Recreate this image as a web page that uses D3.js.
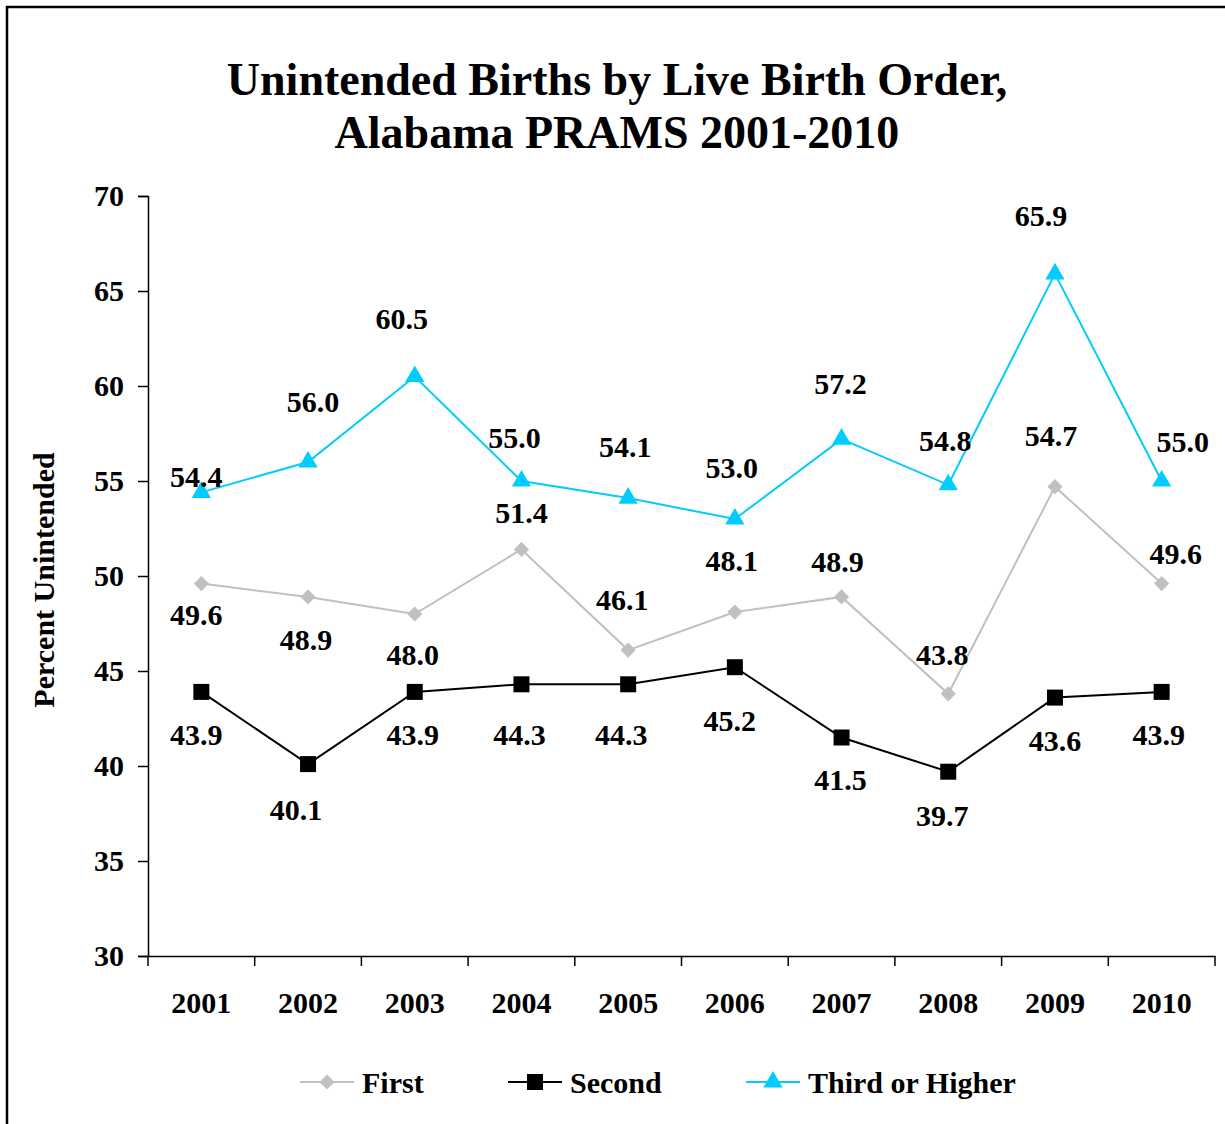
<!DOCTYPE html>
<html>
<head>
<meta charset="utf-8">
<script src="https://cdn.jsdelivr.net/npm/d3@7"></script>
<style>
	body { margin: 0; background: #fff; }
	text { font-family: "Liberation Serif", "Times New Roman", serif; font-weight: bold; }
</style>
</head>
<body>
<svg id="chart" width="1225" height="1124"></svg>
<script>
var years = ['2001', '2002', '2003', '2004', '2005', '2006', '2007', '2008', '2009', '2010'];
var first = [49.6, 48.9, 48.0, 51.4, 46.1, 48.1, 48.9, 43.8, 54.7, 49.6];
var second = [43.9, 40.1, 43.9, 44.3, 44.3, 45.2, 41.5, 39.7, 43.6, 43.9];
var third = [54.4, 56.0, 60.5, 55.0, 54.1, 53.0, 57.2, 54.8, 65.9, 55.0];
var yTicks = [30, 35, 40, 45, 50, 55, 60, 65, 70];

// hand-placed label nudges (px from the marker), like the original
var firstNudge = [[-5, 31], [-2, 43], [-2, 40], [0, -37], [-6, -51], [-3, -52], [-4, -35], [-6, -39], [-4, -51], [14, -30]];
var secondNudge = [[-5, 43], [-12, 45], [-2, 43], [-2, 50], [-7, 50], [-5, 53], [-1, 42], [-6, 44], [0, 43], [-3, 43]];
var thirdNudge = [[-5, -16], [5, -61], [-13, -58], [-7, -44], [-3, -52], [-3, -52], [-1, -56], [-3, -44], [-14, -58], [21, -40]];

var svg = d3.select('#chart');

// outer frame
svg.append('rect')
	.attr('x', 7).attr('y', 7)
	.attr('width', 1240).attr('height', 1140)
	.attr('fill', 'none')
	.attr('stroke', '#000')
	.attr('stroke-width', 2.5);

var plotLeft = 148, plotRight = 1215, plotTop = 196, plotBottom = 956;

var x = d3.scaleBand().domain(years).range([plotLeft, plotRight]);
var y = d3.scaleLinear().domain([30, 70]).range([plotBottom, plotTop]);

svg.append('text')
	.attr('x', 617).attr('y', 95)
	.attr('text-anchor', 'middle')
	.attr('font-size', 46)
	.text('Unintended Births by Live Birth Order,');
svg.append('text')
	.attr('x', 617).attr('y', 148)
	.attr('text-anchor', 'middle')
	.attr('font-size', 46)
	.text('Alabama PRAMS 2001-2010');

// y axis
var yAxis = svg.append('g')
	.attr('transform', 'translate(' + plotLeft + ',0)')
	.call(d3.axisLeft(y).tickValues(yTicks).tickSize(10).tickPadding(14));
yAxis.selectAll('text').attr('font-size', 30).attr('font-family', null).attr('fill', '#000');

// x axis, ticks at band edges
var xAxis = svg.append('g')
	.attr('transform', 'translate(0,' + plotBottom + ')')
	.call(d3.axisBottom(x).tickSize(0).tickPadding(36));
xAxis.selectAll('text').attr('font-size', 30).attr('font-family', null).attr('fill', '#000');
xAxis.selectAll('.edge')
	.data(years.concat(['end']))
	.enter().append('line')
	.attr('class', 'edge')
	.attr('x1', function(d, i) { return plotLeft + i * x.step(); })
	.attr('x2', function(d, i) { return plotLeft + i * x.step(); })
	.attr('y1', 0).attr('y2', 10)
	.attr('stroke', '#000')
	.attr('stroke-width', 1.5);
svg.selectAll('.domain').attr('stroke', '#000').attr('stroke-width', 1.5);
svg.selectAll('.tick line').attr('stroke-width', 1.5);

svg.append('text')
	.attr('transform', 'translate(54,580) rotate(-90)')
	.attr('text-anchor', 'middle')
	.attr('font-size', 30)
	.text('Percent Unintended');

var cx = function(i) { return x(years[i]) + x.bandwidth() / 2; };

// rot: diamond is a square turned 45 degrees
var series = [
	{ name: 'First', values: first, nudge: firstNudge, color: '#c0c0c0', shape: d3.symbolSquare, size: 115, rot: 45, lx: 300 },
	{ name: 'Second', values: second, nudge: secondNudge, color: '#000000', shape: d3.symbolSquare, size: 256, rot: 0, lx: 508 },
	{ name: 'Third or Higher', values: third, nudge: thirdNudge, color: '#00ccff', shape: d3.symbolTriangle, size: 160, rot: 0, lx: 746 }
];

var line = d3.line()
	.x(function(d, i) { return cx(i); })
	.y(function(d) { return y(d); });

series.forEach(function(s) {
	svg.append('path')
		.datum(s.values)
		.attr('fill', 'none')
		.attr('stroke', s.color)
		.attr('stroke-width', 2)
		.attr('d', line);

	svg.selectAll(null)
		.data(s.values)
		.enter().append('path')
		.attr('transform', function(d, i) { return 'translate(' + cx(i) + ',' + y(d) + ') rotate(' + s.rot + ')'; })
		.attr('d', d3.symbol().type(s.shape).size(s.size))
		.attr('fill', s.color);

	svg.selectAll(null)
		.data(s.values)
		.enter().append('text')
		.attr('x', function(d, i) { return cx(i) + s.nudge[i][0]; })
		.attr('y', function(d, i) { return y(d) + s.nudge[i][1]; })
		.attr('dy', '0.35em')
		.attr('text-anchor', 'middle')
		.attr('font-size', 30)
		.text(function(d) { return d.toFixed(1); });

	// legend entry
	var lg = svg.append('g').attr('transform', 'translate(' + s.lx + ',1082)');
	lg.append('line').attr('x1', 0).attr('x2', 54).attr('stroke', s.color).attr('stroke-width', 2);
	lg.append('path')
		.attr('transform', 'translate(27,0) rotate(' + s.rot + ')')
		.attr('d', d3.symbol().type(s.shape).size(s.size))
		.attr('fill', s.color);
	lg.append('text')
		.attr('x', 62).attr('dy', '0.35em')
		.attr('font-size', 30)
		.text(s.name);
});
</script>
</body>
</html>
